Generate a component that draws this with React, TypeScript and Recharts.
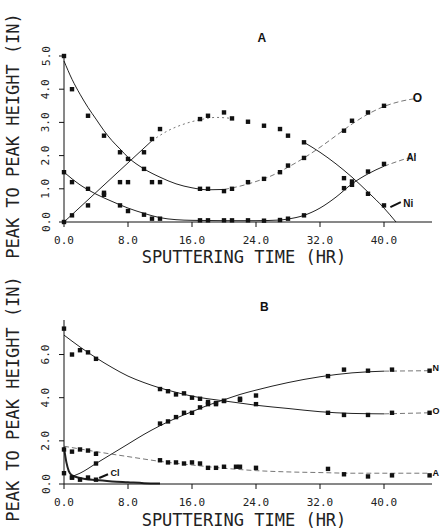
import React from "react"
import { ComposedChart, Line, Scatter, XAxis, YAxis, ReferenceDot, ReferenceLine } from "recharts"

// ---- panel A: measured points [hr, in] ----
const aOxygenPts = [[0, 5.0], [1, 4.0], [3, 3.2], [5, 2.6], [7, 2.1], [8, 1.9], [10, 1.6], [11, 1.2], [12, 1.2], [17, 1.0], [18, 1.0], [20, 0.93], [21, 1.0], [23, 1.2], [25, 1.3], [27, 1.5], [28, 1.7], [30, 1.93], [35, 2.75], [36, 3.05], [38, 3.3], [40, 3.5]]
const aNickelPts = [[0, 0.0], [1, 0.2], [3, 0.5], [5, 0.88], [7, 1.2], [8, 1.2], [10, 2.1], [11, 2.5], [12, 2.8], [17, 3.1], [18, 3.2], [20, 3.3], [21, 3.12], [23, 3.02], [25, 2.9], [27, 2.8], [28, 2.6], [30, 2.4], [38, 0.85], [40, 0.5]]
const aAlumPts = [[0, 1.5], [1, 1.2], [3, 1.0], [5, 0.82], [7, 0.5], [8, 0.33], [10, 0.22], [11, 0.1], [12, 0.1], [17, 0.05], [18, 0.05], [20, 0.05], [21, 0.05], [23, 0.05], [25, 0.04], [27, 0.06], [28, 0.1], [30, 0.2], [35, 1.02], [35, 1.32], [36, 1.12], [36, 1.22], [38, 1.52], [40, 1.75]]

// ---- panel A: fitted curves ----
const aOxygenFit = [[0, 4.85], [1, 4.3], [2, 3.85], [3, 3.45], [4, 3.1], [5, 2.75], [6, 2.45], [7, 2.2], [8, 1.95], [10, 1.6], [12, 1.35], [14, 1.15], [16, 1.03], [18, 0.97], [20, 0.98]]
const aOxygenFitTail = [[20, 0.98], [22, 1.08], [24, 1.22], [26, 1.4], [28, 1.65], [30, 1.93], [32, 2.25], [34, 2.6], [36, 2.95], [38, 3.25], [40, 3.48], [42, 3.63], [44, 3.72]]
const aNickelFitRise = [[0, 0.0], [11, 2.45]]
const aNickelFitTop = [[11, 2.45], [13, 2.75], [15, 2.95], [17, 3.08], [19, 3.15], [21, 3.12]]
const aNickelFitFall = [[30, 2.4], [32, 2.1], [34, 1.75], [36, 1.35], [38, 0.9], [40, 0.42], [41.5, 0.0]]
const aAlumFit = [[0, 1.5], [1, 1.3], [2, 1.12], [3, 0.97], [4, 0.84], [6, 0.62], [8, 0.42], [10, 0.26], [12, 0.13], [14, 0.07], [16, 0.05], [20, 0.04], [24, 0.04], [27, 0.06], [28, 0.09], [30, 0.2], [32, 0.42], [34, 0.75], [36, 1.15], [38, 1.45], [40, 1.68]]
const aAlumFitTail = [[40, 1.68], [42, 1.85], [44, 2.0]]

// ---- panel B: measured points ----
const bOxygenPts = [[0, 7.2], [1, 6.0], [2, 6.2], [3, 6.1], [4, 5.8], [12, 4.4], [13, 4.3], [14, 4.15], [15, 4.2], [16, 4.0], [17, 3.95], [18, 3.8], [19, 3.7], [20, 3.85], [22, 3.9], [24, 3.7], [33, 3.3], [35, 3.2], [38, 3.2], [41, 3.3], [45.7, 3.3]]
const bNitrogenPts = [[1, 0.3], [4, 0.95], [12, 2.8], [13, 2.9], [14, 3.1], [15, 3.3], [16, 3.3], [17, 3.55], [18, 3.7], [19, 3.75], [20, 3.85], [22, 3.95], [24, 4.1], [33, 5.0], [35, 5.3], [38, 5.25], [41, 5.3], [45.7, 5.25]]
const bAlumPts = [[0, 1.6], [1, 1.5], [2, 1.6], [3, 1.55], [4, 1.4], [12, 1.1], [13, 1.0], [14, 1.0], [15, 0.95], [16, 1.0], [17, 0.95], [18, 0.75], [19, 0.75], [20, 0.8], [21.5, 0.8], [22, 0.8], [24, 0.75], [33, 0.7], [35, 0.45], [38, 0.35], [41, 0.4], [45.7, 0.4]]
const bChlorPts = [[0, 0.5], [1, 0.3], [2, 0.2], [3, 0.3], [4, 0.2]]

// ---- panel B: fitted curves ----
const bOxygenFit = [[0, 6.9], [2, 6.35], [4, 5.85], [6, 5.4], [8, 5.0], [10, 4.7], [12, 4.45], [14, 4.25], [16, 4.07], [18, 3.95], [20, 3.85], [22, 3.75], [24, 3.65], [28, 3.5], [32, 3.35], [36, 3.27], [40, 3.25]]
const bOxygenFitTail = [[40, 3.25], [45.7, 3.3]]
const bNitrogenFit = [[1, 0.35], [2, 0.5], [4, 0.95], [6, 1.4], [8, 1.85], [10, 2.3], [12, 2.7], [14, 3.05], [16, 3.35], [18, 3.65], [20, 3.9], [22, 4.15], [24, 4.35], [28, 4.7], [32, 4.97], [36, 5.15], [40, 5.23]]
const bNitrogenFitTail = [[40, 5.23], [45.7, 5.25]]
const bAlumFit = [[0, 1.75], [4, 1.5], [8, 1.27], [12, 1.05], [16, 0.88], [20, 0.73], [24, 0.62], [28, 0.56], [32, 0.53], [36, 0.5], [40, 0.5], [45.7, 0.5]]
const bChlorFit = [[0, 1.7], [0.3, 1.0], [0.6, 0.6], [1, 0.4], [2, 0.28], [4, 0.18], [6, 0.12], [8, 0.08], [10, 0.04], [12, 0.02]]

const xTicks = [0, 8, 16, 24, 32, 40]
const aYTicks = [0, 1, 2, 3, 4, 5]
const bYTicks = [0, 2, 4, 6]

const toXY = (pts: number[][]) => pts.map(([x, y]) => ({ x, y }))

const MONO = "'DejaVu Sans Mono', monospace"
const SANS = "'Liberation Sans', Arial, sans-serif"

const Square = (props: any) => {
  const { cx, cy } = props
  if (cx == null || cy == null) return null
  return <rect x={cx - 2.2} y={cy - 2.2} width={4.4} height={4.4} fill="#111" />
}

const YTick = (props: any) => {
  const { x, y, payload } = props
  return (
    <text x={x} y={y} transform={`rotate(-90 ${x} ${y})`} textAnchor="middle" dominantBaseline="central"
      fontFamily={MONO} fontSize={11} fill="#222">
      {Number(payload.value).toFixed(1)}
    </text>
  )
}

const yTitle = (props: any) => {
  const vb = props.viewBox
  const cx = 13
  const cy = vb.y + vb.height / 2 - 3
  return (
    <text x={cx} y={cy} transform={`rotate(-90 ${cx} ${cy})`} textAnchor="middle" dominantBaseline="central"
      fontFamily={MONO} fontSize={17} fill="#222">
      PEAK TO PEAK HEIGHT (IN)
    </text>
  )
}

const tag = (text: string, size = 10) => (props: any) => {
  const vb = props.viewBox
  return (
    <text x={vb.x} y={vb.y} dominantBaseline="central" fontFamily={SANS} fontWeight="bold" fontSize={size} fill="#111">
      {text}
    </text>
  )
}

function fitLine(pts: number[][], key: string, style: "solid" | "dash" | "dot" | "thick") {
  const stroke = style === "solid" || style === "thick" ? "#222" : "#777"
  const dash = style === "dash" ? "5 3" : style === "dot" ? "2 3" : undefined
  return (
    <Line
      key={key}
      data={toXY(pts)}
      dataKey="y"
      type="monotone"
      stroke={stroke}
      strokeWidth={style === "thick" ? 2 : 1}
      strokeDasharray={dash}
      dot={false}
      activeDot={false}
      isAnimationActive={false}
    />
  )
}

function dots(pts: number[][], key: string) {
  return <Scatter key={key} data={toXY(pts)} dataKey="y" shape={<Square />} isAnimationActive={false} />
}

function XStuff(labelOffset: number) {
  return (
    <XAxis
      dataKey="x"
      type="number"
      domain={[0, 46]}
      ticks={xTicks}
      tickFormatter={(v: number) => v.toFixed(1)}
      tick={{ fontFamily: MONO, fontSize: 11, fill: "#222" }}
      tickSize={5}
      tickMargin={9}
      axisLine={{ stroke: "#111" }}
      tickLine={{ stroke: "#111" }}
      height={48}
      allowDuplicatedCategory={false}
      label={(props: any) => {
        const vb = props.viewBox
        return (
          <text x={244} y={vb.y + vb.height - labelOffset} textAnchor="middle" fontFamily={MONO} fontSize={17} fill="#222">
            SPUTTERING TIME (HR)
          </text>
        )
      }}
    />
  )
}

function PanelA() {
  return (
    <ComposedChart width={440} height={270} margin={{ top: 56, right: 8, left: 0, bottom: 0 }}>
      {XStuff(7)}
      <YAxis dataKey="y" type="number" domain={[0, 5]} ticks={aYTicks} width={64} tick={<YTick />}
        tickSize={5} tickMargin={13} axisLine={{ stroke: "#111" }} tickLine={{ stroke: "#111" }} label={yTitle} />
      {fitLine(aOxygenFit, "aof", "solid")}
      {fitLine(aOxygenFitTail, "aot", "dash")}
      {fitLine(aNickelFitRise, "anr", "solid")}
      {fitLine(aNickelFitTop, "ant", "dot")}
      {fitLine(aNickelFitFall, "anf", "solid")}
      {fitLine(aAlumFit, "aaf", "solid")}
      {fitLine(aAlumFitTail, "aat", "dash")}
      {dots(aOxygenPts, "aop")}
      {dots(aNickelPts, "anp")}
      {dots(aAlumPts, "aap")}
      <ReferenceLine segment={[{ x: 42.1, y: 0.6 }, { x: 40.8, y: 0.45 }]} stroke="#111" strokeWidth={2} ifOverflow="visible" />
      <ReferenceDot x={43.6} y={3.73} r={0} ifOverflow="visible" label={tag("O", 12)} />
      <ReferenceDot x={42.8} y={1.93} r={0} ifOverflow="visible" label={tag("Al")} />
      <ReferenceDot x={42.4} y={0.57} r={0} ifOverflow="visible" label={tag("Ni")} />
      <ReferenceDot x={24.2} y={5.55} r={0} ifOverflow="visible" label={tag("A", 12)} />
    </ComposedChart>
  )
}

function PanelB() {
  return (
    <ComposedChart width={440} height={262} margin={{ top: 50, right: 8, left: 0, bottom: 0 }}>
      {XStuff(6)}
      <YAxis dataKey="y" type="number" domain={[0, 7.6]} ticks={bYTicks} width={64} tick={<YTick />}
        tickSize={5} tickMargin={13} axisLine={{ stroke: "#111" }} tickLine={{ stroke: "#111" }} label={yTitle} />
      {fitLine(bOxygenFit, "bof", "solid")}
      {fitLine(bOxygenFitTail, "bot", "dash")}
      {fitLine(bNitrogenFit, "bnf", "solid")}
      {fitLine(bNitrogenFitTail, "bnt", "dash")}
      {fitLine(bAlumFit, "baf", "dash")}
      {fitLine(bChlorFit, "bcf", "thick")}
      {dots(bOxygenPts, "bop")}
      {dots(bNitrogenPts, "bnp")}
      {dots(bAlumPts, "bap")}
      {dots(bChlorPts, "bcp")}
      <ReferenceLine segment={[{ x: 5.5, y: 0.45 }, { x: 4.4, y: 0.28 }]} stroke="#111" strokeWidth={2} ifOverflow="visible" />
      <ReferenceDot x={5.8} y={0.5} r={0} ifOverflow="visible" label={tag("Cl", 9)} />
      <ReferenceDot x={46.05} y={5.36} r={0} ifOverflow="visible" label={tag("N", 9)} />
      <ReferenceDot x={46.05} y={3.36} r={0} ifOverflow="visible" label={tag("O", 9)} />
      <ReferenceDot x={46.05} y={0.5} r={0} ifOverflow="visible" label={tag("A", 9)} />
      <ReferenceDot x={24.5} y={8.2} r={0} ifOverflow="visible" label={tag("B", 12)} />
    </ComposedChart>
  )
}

export default function App() {
  return (
    <div style={{ position: "absolute", left: 0, top: 0, width: 440, height: 532, background: "#fff" }}>
      <PanelA />
      <PanelB />
    </div>
  )
}
